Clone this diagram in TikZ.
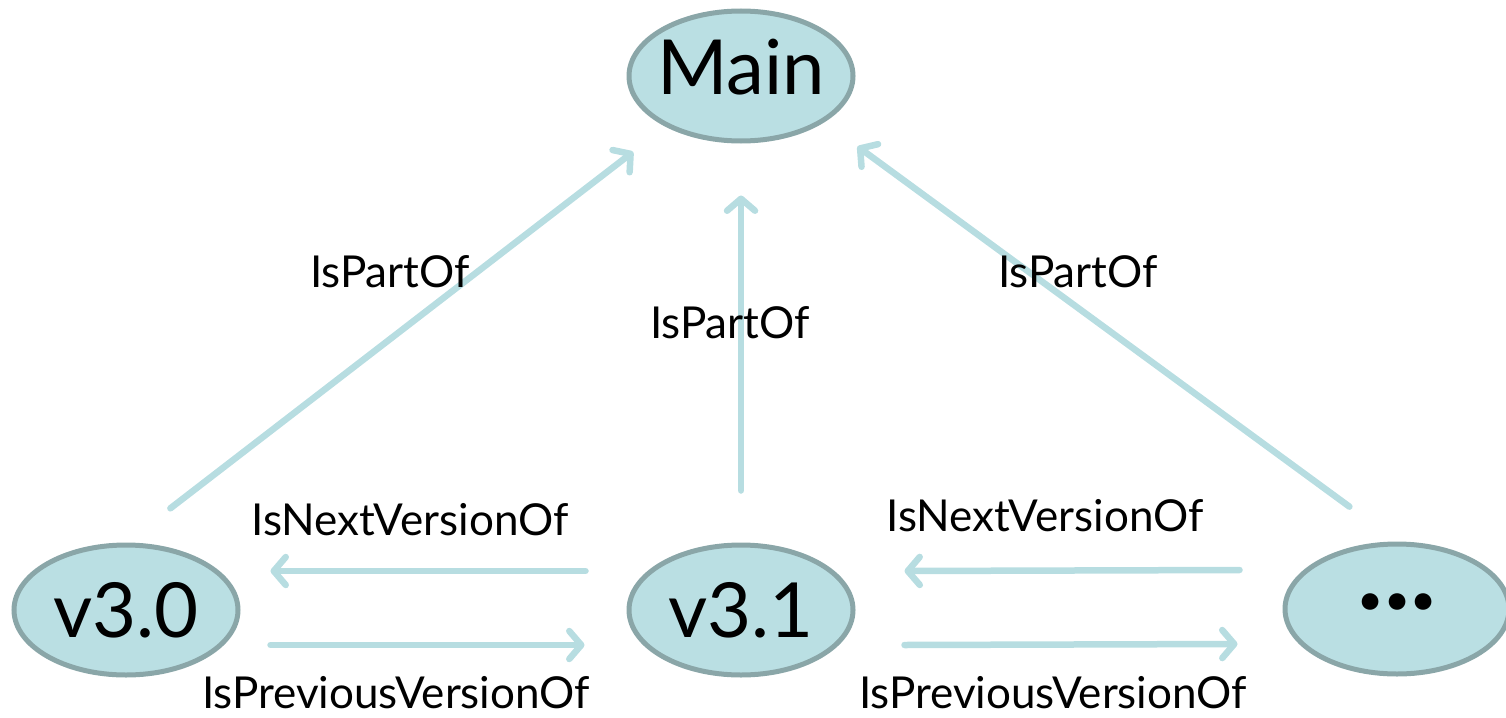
\documentclass[tikz,border=0pt]{standalone}
\usepackage{fontspec}
\setmainfont{Lato}
\usetikzlibrary{shapes.geometric,arrows.meta}
\definecolor{nodefill}{RGB}{186,223,227}
\definecolor{nodeedge}{RGB}{138,166,168}
\definecolor{arrcol}{RGB}{183,221,225}
\tikzset{
  vnode/.style={ellipse, draw=nodeedge, fill=nodefill, line width=5pt,
    minimum width=224pt, minimum height=130pt, inner sep=-15pt,
    font=\fontsize{76}{76}\selectfont},
  arr/.style={draw=arrcol, line width=6.5pt, line cap=round,
    -{Straight Barb[length=12pt,width=28pt,line cap=round,line join=round]}},
  lbl/.style={font=\fontsize{44}{44}\selectfont, inner sep=0pt}
}
\begin{document}
\begin{tikzpicture}[x=1pt,y=-1pt]
\useasboundingbox (0,0) rectangle (1506,717);
\node[vnode, text depth=18pt] (main) at (741,76) {Main};
\node[vnode] (v30) at (126,610) {v3.0};
\node[vnode] (v31) at (741,610) {v3.1};
\node[vnode, text depth=14pt, font=\fontsize{110}{110}\selectfont\bfseries] (dots) at (1397,609) {...};

\draw[arr, shorten <=56pt, shorten >=41pt] (v30.north) -- (main.214);
\draw[arr, shorten <=52pt, shorten >=52pt] (v31.north) -- (main.south);
\draw[arr, shorten <=59pt, shorten >=41pt] (dots.north) -- (main.-29);

\draw[arr] ([shift={(-41pt,39pt)}]v31.west) -- ([shift={(30pt,39pt)}]v30.east);
\draw[arr] ([shift={(30pt,-35pt)}]v30.east) -- ([shift={(-42pt,-35pt)}]v31.west);
\draw[arr] ([shift={(-43pt,39pt)}]dots.west) -- ([shift={(49pt,39pt)}]v31.east);
\draw[arr] ([shift={(49pt,-35pt)}]v31.east) -- ([shift={(-45pt,-35pt)}]dots.west);

\node[lbl] (l1) at (390,272) {IsPartOf};
\node[lbl] (l2) at (730,323) {IsPartOf};
\node[lbl] (l3) at (1078,272) {IsPartOf};
\node[lbl] (l4) at (410,520) {IsNextVersionOf};
\node[lbl] (l5) at (1045,516) {IsNextVersionOf};
\node[lbl] (l6) at (396,693) {IsPreviousVersionOf};
\node[lbl] (l7) at (1053,693) {IsPreviousVersionOf};
\end{tikzpicture}
\end{document}
